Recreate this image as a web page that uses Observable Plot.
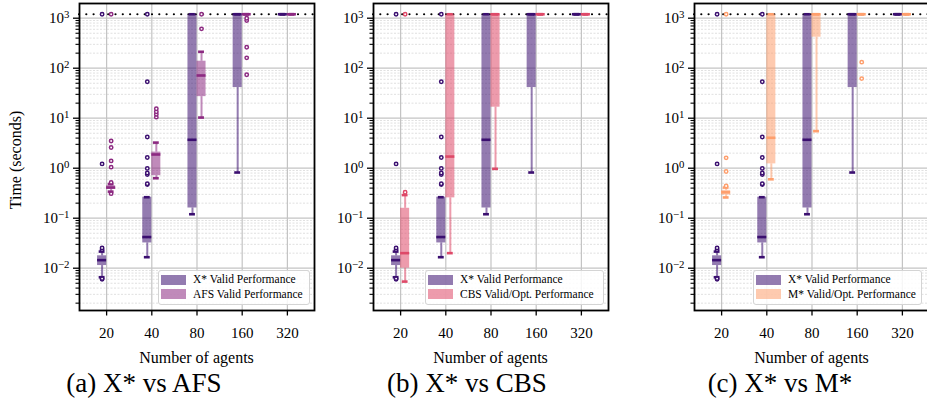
<!DOCTYPE html>
<html><head><meta charset="utf-8">
<script src="https://cdn.jsdelivr.net/npm/d3@7"></script>
<script src="https://cdn.jsdelivr.net/npm/@observablehq/plot@0.6"></script>
<style>
body{margin:0;background:#fff;}
#root{position:relative;width:927px;height:411px;overflow:hidden;font-family:"Liberation Serif","DejaVu Serif",serif;color:#000;}
.panel{position:absolute;top:0;}
.panel svg{max-width:none !important;display:block;}
.caption{position:absolute;top:370px;font-size:27px;line-height:27px;white-space:nowrap;transform:translateX(-50%);}
.xlabel{position:absolute;top:350px;font-size:16px;line-height:16px;white-space:nowrap;transform:translateX(-50%);}
.ylabel{position:absolute;font-size:16px;line-height:16px;white-space:nowrap;transform:translate(-50%,-50%) rotate(-90deg);}
.legend{position:absolute;box-sizing:border-box;border:1px solid #d4d4d4;border-radius:3px;background:rgba(255,255,255,0.85);}
.legend .patch{position:absolute;width:25px;height:10px;}
.legend .lab{position:absolute;font-size:11.5px;white-space:nowrap;line-height:11px;}
</style></head><body><div id="root"></div>
<script>
// ---- data ----
const agents = [20, 40, 80, 160, 320];
const timeoutSeconds = 1200;

// X* (shared by all panels)
const xsWhiskerLow  = [0.0066, 0.0166, 0.12, 0.82, 1200];
const xsQ1          = [0.0113, 0.032, 0.16, 41, 1200];
const xsMedian      = [0.0145, 0.042, 3.7, 1200, 1200];
const xsQ3          = [0.0177, 0.263, 1200, 1200, 1200];
const xsWhiskerHigh = [0.0215, 0.263, 1200, 1200, 1200];
const xsOutliers    = [[0.006, 0.0062, 0.0235, 0.0255, 1.22, 1200], [0.47, 0.49, 0.75, 0.8, 0.99, 1.64, 4.2, 53.5, 1200], [], [], []];

// AFS
const afsWhiskerLow  = [0.34, 0.63, 10.3, 1200, 1200];
const afsQ1          = [0.38, 0.71, 27, 1200, 1200];
const afsMedian      = [0.41, 1.88, 71.5, 1200, 1200];
const afsQ3          = [0.445, 2.1, 138, 1200, 1200];
const afsWhiskerHigh = [0.48, 3.25, 213, 1200, 1200];
const afsOutliers    = [[0.31, 0.52, 1.05, 1.4, 2.6, 3.5, 1200], [10.5, 12, 13.5, 15.5], [612, 1200], [74, 161, 263, 900, 1000], []];

// CBS
const cbsWhiskerLow  = [0.0054, 0.02, 0.97, 1200, 1200];
const cbsQ1          = [0.01, 0.255, 16.6, 1200, 1200];
const cbsMedian      = [0.02, 1.71, 1200, 1200, 1200];
const cbsQ3          = [0.158, 1200, 1200, 1200, 1200];
const cbsWhiskerHigh = [0.29, 1200, 1200, 1200, 1200];
const cbsOutliers    = [[0.33, 1200], [], [], [], []];

// M*
const msWhiskerLow  = [0.26, 0.6, 5.5, 1200, 1200];
const msQ1          = [0.29, 1.22, 417, 1200, 1200];
const msMedian      = [0.33, 4.06, 1200, 1200, 1200];
const msQ3          = [0.36, 1200, 1200, 1200, 1200];
const msWhiskerHigh = [0.41, 1200, 1200, 1200, 1200];
const msOutliers    = [[0.44, 0.86, 1.61, 1200], [], [], [62, 132], []];

const legendLabels = ["X* Valid Performance", "AFS Valid Performance", "CBS Valid/Opt. Performance", "M* Valid/Opt. Performance"];
const captions = ["(a) X* vs AFS", "(b) X* vs CBS", "(c) X* vs M*"];
const xLabel = "Number of agents";
const yLabel = "Time (seconds)";
const seriesColors = ["#3b0f70", "#8c2981", "#de4968", "#fe9f6d"];

// ---- build ----
function series(wlo, q1, med, q3, whi, outl, color, offset) {
  const rows = agents.map((a, i) => ({c: i + 1 + offset, wlo: wlo[i], q1: q1[i], med: med[i], q3: q3[i], whi: whi[i], color}));
  const dots = agents.flatMap((a, i) => outl[i].map(v => ({c: i + 1 + offset, v, color})));
  return {rows, dots};
}
const xstar = (o) => series(xsWhiskerLow, xsQ1, xsMedian, xsQ3, xsWhiskerHigh, xsOutliers, seriesColors[0], o);
const others = [
  (o) => series(afsWhiskerLow, afsQ1, afsMedian, afsQ3, afsWhiskerHigh, afsOutliers, seriesColors[1], o),
  (o) => series(cbsWhiskerLow, cbsQ1, cbsMedian, cbsQ3, cbsWhiskerHigh, cbsOutliers, seriesColors[2], o),
  (o) => series(msWhiskerLow, msQ1, msMedian, msQ3, msWhiskerHigh, msOutliers, seriesColors[3], o)
];

const majorTicks = [0.01, 0.1, 1, 10, 100, 1000];
const yDomain = [0.001426, 1968];
const minorTicks = [];
for (let e = -3; e <= 3; e++) for (let k = 2; k <= 9; k++) { const v = k * 10 ** e; if (v > yDomain[0] && v < yDomain[1]) minorTicks.push(v); }

const layout = [
  {left: 0, width: 318, mL: 79, mR: 4, legend: {left: 158, top: 269.5, width: 152}, capX: 144},
  {left: 318, width: 293, mL: 55, mR: 3, legend: {left: 425, top: 269.5, width: 179}, capX: 467},
  {left: 640, width: 291, mL: 54, mR: 2, legend: {left: 753, top: 269.5, width: 169}, capX: 780}
];

const root = document.getElementById("root");
const ns = "http://www.w3.org/2000/svg";
const fontStack = "'Liberation Serif', 'DejaVu Serif', serif";

layout.forEach((L, p) => {
  const A = xstar(-0.1), B = others[p](0.1);
  const rows = [...A.rows, ...B.rows];
  const dots = [...A.dots, ...B.dots];
  const plot = Plot.plot({
    width: L.width, height: 373,
    marginLeft: L.mL, marginRight: L.mR, marginTop: 3, marginBottom: 63,
    style: {fontFamily: fontStack, fontSize: "15px", color: "black", background: "transparent", overflow: "visible"},
    x: {type: "linear", domain: [0.4, 5.6]},
    y: {type: "log", domain: yDomain},
    marks: [
      Plot.gridY(minorTicks, {stroke: "#d3d3d3", strokeOpacity: 1, strokeWidth: 0.7, strokeDasharray: "2,1.5"}),
      Plot.gridY(majorTicks, {stroke: "#c4c4c4", strokeOpacity: 1, strokeWidth: 1.2}),
      Plot.gridX([1, 2, 3, 4, 5], {stroke: "#c4c4c4", strokeOpacity: 1, strokeWidth: 1.2}),
      Plot.ruleY([timeoutSeconds], {stroke: "black", strokeWidth: 2.2, strokeDasharray: "0,7.3", strokeLinecap: "round"}),
      Plot.rect(rows, {x1: d => d.c - 0.1, x2: d => d.c + 0.1, y1: "q1", y2: "q3", fill: "color", fillOpacity: 0.55}),
      Plot.ruleX(rows, {x: "c", y1: "wlo", y2: "q1", stroke: "color", strokeOpacity: 0.55, strokeWidth: 2}),
      Plot.ruleX(rows, {x: "c", y1: "q3", y2: "whi", stroke: "color", strokeOpacity: 0.55, strokeWidth: 2}),
      Plot.ruleY(rows, {y: "wlo", x1: d => d.c - 0.065, x2: d => d.c + 0.065, stroke: "color", strokeWidth: 2.6}),
      Plot.ruleY(rows, {y: "whi", x1: d => d.c - 0.065, x2: d => d.c + 0.065, stroke: "color", strokeWidth: 2.6}),
      Plot.ruleY(rows, {y: "med", x1: d => d.c - 0.1, x2: d => d.c + 0.1, stroke: "color", strokeWidth: 2.6}),
      Plot.dot(dots, {x: "c", y: "v", r: 1.7, stroke: "color", fill: "white", strokeWidth: 1.5}),
      Plot.frame({stroke: "black", strokeWidth: 1.8}),
      Plot.axisY(minorTicks, {tickSize: 3.5, strokeWidth: 1.1, tickFormat: () => "", label: null}),
      Plot.axisY(majorTicks, {tickSize: 6, tickPadding: 4, strokeWidth: 1.3, fontSize: 15,
        tickFormat: d => "10^" + String(Math.round(Math.log10(d))).replace("-", "\u2212"), label: null}),
      Plot.axisX([1, 2, 3, 4, 5], {tickSize: 5.5, tickPadding: 11, strokeWidth: 1.3, fontSize: 15,
        tickFormat: d => String(agents[d - 1]), label: null})
    ]
  });
  plot.style.maxWidth = "none";
  // superscript exponents
  plot.querySelectorAll("text").forEach(t => {
    const s = t.textContent;
    if (!/^10\^/.test(s)) return;
    const [b, e] = s.split("^");
    t.textContent = "";
    const t1 = document.createElementNS(ns, "tspan"); t1.textContent = b;
    const t2 = document.createElementNS(ns, "tspan"); t2.textContent = e;
    t2.setAttribute("dy", "-0.5em"); t2.setAttribute("font-size", "0.72em");
    t.append(t1, t2);
  });
  const div = document.createElement("div");
  div.className = "panel";
  div.style.left = L.left + "px";
  div.style.width = L.width + "px";
  div.append(plot);
  root.append(div);

  // axis labels
  const frameCenterX = L.left + L.mL + (L.width - L.mL - L.mR) / 2;
  const xl = document.createElement("div");
  xl.className = "xlabel";
  xl.style.left = frameCenterX + "px";
  xl.textContent = xLabel;
  root.append(xl);
  if (p === 0) {
    const yl = document.createElement("div");
    yl.className = "ylabel";
    yl.style.left = "16px";
    yl.style.top = "160px";
    yl.textContent = yLabel;
    root.append(yl);
  }

  // legend
  const lg = document.createElement("div");
  lg.className = "legend";
  Object.assign(lg.style, {left: L.legend.left + "px", top: L.legend.top + "px", width: L.legend.width + "px", height: "35px"});
  [[seriesColors[0], legendLabels[0]], [seriesColors[p + 1], legendLabels[p + 1]]].forEach(([c, lab], k) => {
    const pt = document.createElement("div");
    pt.className = "patch";
    Object.assign(pt.style, {left: "2px", top: (4 + k * 14.7) + "px", background: c, opacity: 0.55});
    const tx = document.createElement("div");
    tx.className = "lab";
    Object.assign(tx.style, {left: "34px", top: (3.5 + k * 14.7) + "px"});
    tx.textContent = lab;
    lg.append(pt, tx);
  });
  root.append(lg);

  const cap = document.createElement("div");
  cap.className = "caption";
  cap.style.left = L.capX + "px";
  cap.textContent = captions[p];
  root.append(cap);
});
</script>
</body></html>
